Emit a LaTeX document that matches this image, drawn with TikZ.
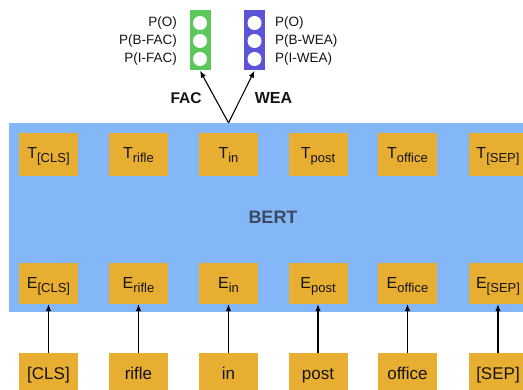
\documentclass[tikz,border=0pt]{standalone}
\usepackage{fontspec}
\setmainfont{Liberation Sans}
\usetikzlibrary{arrows.meta}

\definecolor{bertblue}{HTML}{84B7F7}
\definecolor{tokorange}{HTML}{E8AE32}
\definecolor{facgreen}{HTML}{5CC75B}
\definecolor{weapurple}{HTML}{5C54D6}
\definecolor{bertlabel}{HTML}{3B4A60}
\definecolor{ink}{HTML}{141414}

% token label with a lowered, smaller subscript
\newcommand{\toklab}[2]{#1\raisebox{-4pt}{\fontsize{13}{13}\selectfont #2}}

\tikzset{
  tokbox/.style={fill=tokorange, minimum width=59pt, minimum height=42pt,
    inner sep=0pt, text=ink, font=\fontsize{16}{16}\selectfont,
    text height=13pt, text depth=4pt},
  inbox/.style={fill=tokorange, minimum width=59pt, minimum height=44pt,
    inner sep=0pt, text=ink, font=\fontsize{17}{17}\selectfont,
    text height=13pt, text depth=4pt},
  problab/.style={inner sep=0pt, text=ink, font=\fontsize{13.5}{13.5}\selectfont,
    text height=10pt, text depth=3pt},
  outbar/.style={minimum width=21pt, minimum height=60pt, inner sep=0pt},
  unit/.style={circle, fill=white, minimum size=14pt, inner sep=0pt},
  typelab/.style={inner sep=0pt, text=ink, font=\bfseries\fontsize{16}{16}\selectfont},
  arr/.style={-{Latex[length=7pt,width=5.5pt]}, line width=1.1pt, draw=black},
}

\begin{document}
\begin{tikzpicture}[x=1pt, y=-1pt]
\useasboundingbox (0,0) rectangle (523,390);
\clip (0,0) rectangle (523,390);

% BERT encoder block
\node[fill=bertblue, minimum width=528pt, minimum height=189pt, inner sep=0pt,
      text=bertlabel, font=\bfseries\fontsize{18}{18}\selectfont]
  (bert) at (273,217.5) {BERT};

% output vectors, embeddings and input tokens
\foreach \x/\n/\sub/\word in {48.5/1/[CLS]/[CLS], 138.5/2/rifle/rifle, 228.5/3/in/in,
                              318/4/post/post, 407.5/5/office/office, 498/6/[SEP]/[SEP]} {
  \node[tokbox, minimum height=43pt] (t\n) at (\x,154.5) {\toklab{T}{\sub}};
  \node[tokbox, minimum height=41pt, text height=14pt, text depth=3pt]
    (e\n) at (\x,283.5) {\toklab{E}{\sub}};
  \node[inbox] (in\n) at (\x,375) {\word};
  \draw[arr] (in\n.north) -- (e\n.south);
}

% FAC output layer
\node[outbar, fill=facgreen] (fac) at (200,40.5) {};
\node[unit] (f1) at (200,23) {};
\node[unit] (f2) at (200,41) {};
\node[unit] (f3) at (200,59) {};
\node[problab, anchor=east] (pf1) at (177,23) {P(O)};
\node[problab, anchor=east] (pf2) at (177,41) {P(B-FAC)};
\node[problab, anchor=east] (pf3) at (177,59) {P(I-FAC)};

% WEA output layer
\node[outbar, fill=weapurple] (wea) at (254.5,40.5) {};
\node[unit] (w1) at (254.5,23) {};
\node[unit] (w2) at (254.5,41) {};
\node[unit] (w3) at (254.5,59) {};
\node[problab, anchor=west] (pw1) at (275,23) {P(O)};
\node[problab, anchor=west] (pw2) at (275,41) {P(B-WEA)};
\node[problab, anchor=west] (pw3) at (275,59) {P(I-WEA)};

% type labels and heads
\node[typelab, font=\bfseries\fontsize{15.5}{15.5}\selectfont] (faclab) at (186,98) {FAC};
\node[typelab] (wealab) at (273.5,98) {WEA};
\coordinate (split) at (t3 |- bert.north);
\draw[arr] (split) -- (fac.south);
\draw[arr] (split) -- (wea.south);
\end{tikzpicture}
\end{document}
